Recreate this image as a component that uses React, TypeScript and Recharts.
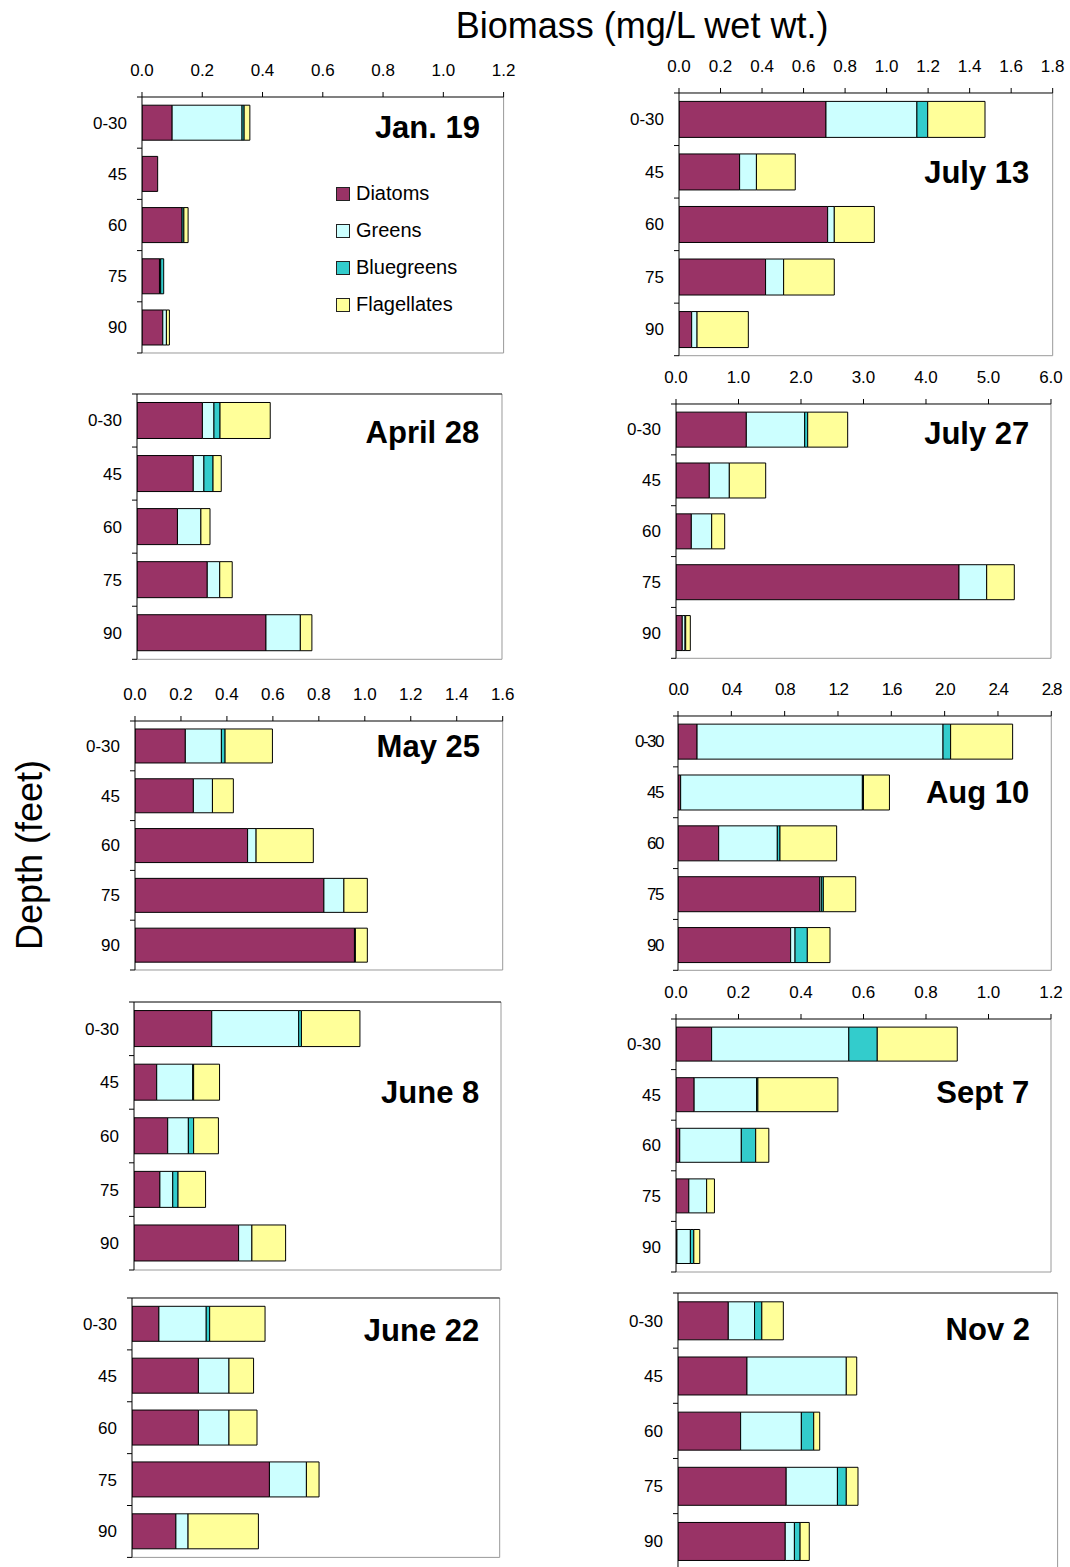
import React from 'react';
import { BarChart, Bar, XAxis, YAxis, CartesianGrid, Legend } from 'recharts';

// depth categories and series
const depths = ['0-30', '45', '60', '75', '90'];
const seriesKeys = ['diatoms', 'greens', 'bluegreens', 'flagellates'];
const seriesNames = ['Diatoms', 'Greens', 'Bluegreens', 'Flagellates'];
const seriesColors = ['#993366', '#CCFFFF', '#33CCCC', '#FFFF99'];

// axis ticks (mg/L wet wt.)
const ticks12 = [0, 0.2, 0.4, 0.6, 0.8, 1.0, 1.2];
const ticks16 = [0, 0.2, 0.4, 0.6, 0.8, 1.0, 1.2, 1.4, 1.6];
const ticks18 = [0, 0.2, 0.4, 0.6, 0.8, 1.0, 1.2, 1.4, 1.6, 1.8];
const ticks28 = [0, 0.4, 0.8, 1.2, 1.6, 2.0, 2.4, 2.8];
const ticks60 = [0, 1, 2, 3, 4, 5, 6];

// rows by depth: [diatoms, greens, bluegreens, flagellates]
type Row = number[];
const jan19: Row[] = [
  [0.1, 0.232, 0.007, 0.019],
  [0.052, 0, 0, 0],
  [0.133, 0, 0.006, 0.014],
  [0.058, 0.004, 0.01, 0],
  [0.069, 0.012, 0, 0.01],
];
const apr28: Row[] = [
  [0.215, 0.038, 0.02, 0.165],
  [0.185, 0.035, 0.03, 0.027],
  [0.133, 0.077, 0, 0.03],
  [0.231, 0.041, 0, 0.041],
  [0.424, 0.113, 0, 0.038],
];
const may25: Row[] = [
  [0.219, 0.157, 0.016, 0.206],
  [0.254, 0.083, 0, 0.091],
  [0.49, 0.037, 0, 0.249],
  [0.822, 0.087, 0, 0.102],
  [0.955, 0, 0.004, 0.052],
];
const jun8: Row[] = [
  [0.339, 0.379, 0.012, 0.255],
  [0.099, 0.157, 0.004, 0.113],
  [0.147, 0.09, 0.023, 0.108],
  [0.113, 0.056, 0.023, 0.12],
  [0.456, 0.058, 0, 0.147],
];
const jun22: Row[] = [
  [0.117, 0.206, 0.015, 0.241],
  [0.289, 0.133, 0, 0.107],
  [0.289, 0.133, 0, 0.122],
  [0.598, 0.161, 0, 0.055],
  [0.191, 0.053, 0, 0.306],
];
const jul13: Row[] = [
  [0.708, 0.438, 0.052, 0.276],
  [0.292, 0.081, 0, 0.187],
  [0.716, 0.032, 0, 0.193],
  [0.417, 0.087, 0, 0.244],
  [0.061, 0.026, 0, 0.247],
];
const jul27: Row[] = [
  [1.125, 0.934, 0.048, 0.64],
  [0.533, 0.32, 0, 0.582],
  [0.245, 0.326, 0, 0.208],
  [4.528, 0.443, 0, 0.442],
  [0.1, 0.045, 0.01, 0.074],
];
const aug10: Row[] = [
  [0.143, 1.845, 0.057, 0.465],
  [0.02, 1.363, 0.008, 0.195],
  [0.305, 0.44, 0.02, 0.425],
  [1.063, 0.012, 0.015, 0.243],
  [0.845, 0.033, 0.092, 0.17],
];
const sep7: Row[] = [
  [0.114, 0.439, 0.091, 0.256],
  [0.058, 0.2, 0.004, 0.256],
  [0.012, 0.197, 0.046, 0.042],
  [0.041, 0.057, 0, 0.025],
  [0.003, 0.043, 0.011, 0.019],
];
const nov2: Row[] = [
  [0.159, 0.083, 0.023, 0.068],
  [0.218, 0.314, 0, 0.033],
  [0.198, 0.192, 0.039, 0.019],
  [0.342, 0.162, 0.028, 0.037],
  [0.339, 0.029, 0.018, 0.029],
];

const FONT = '"Liberation Sans", Arial, sans-serif';
const YW = 70; // y axis width
const XH = 45; // x axis height
const MR = 20;
const MB = 4;

interface PanelProps {
  title: string;
  rows: Row[];
  l: number;
  t: number;
  r: number;
  b: number;
  max: number;
  ticks: number[];
  labels: boolean;
  narrow?: boolean;
  legend?: boolean;
}

const panels: PanelProps[] = [
  { title: 'Jan. 19', rows: jan19, l: 141.7, t: 96.7, r: 503.3, b: 352.7, max: 1.2, ticks: ticks12, labels: true, legend: true },
  { title: 'April 28', rows: apr28, l: 137.3, t: 394, r: 502.3, b: 659.3, max: 1.2, ticks: ticks12, labels: false },
  { title: 'May 25', rows: may25, l: 135.3, t: 721, r: 503, b: 970, max: 1.6, ticks: ticks16, labels: true },
  { title: 'June 8', rows: jun8, l: 134, t: 1002.3, r: 501, b: 1270.3, max: 1.6, ticks: ticks16, labels: false },
  { title: 'June 22', rows: jun22, l: 132.3, t: 1298.3, r: 500, b: 1557.7, max: 1.6, ticks: ticks16, labels: false },
  { title: 'July 13', rows: jul13, l: 679, t: 93.3, r: 1052.7, b: 356, max: 1.8, ticks: ticks18, labels: true },
  { title: 'July 27', rows: jul27, l: 676, t: 404, r: 1051, b: 658.3, max: 6, ticks: ticks60, labels: true },
  { title: 'Aug 10', rows: aug10, l: 678, t: 716, r: 1051.3, b: 970.3, max: 2.8, ticks: ticks28, labels: true, narrow: true },
  { title: 'Sept 7', rows: sep7, l: 676, t: 1019.3, r: 1051, b: 1272.3, max: 1.2, ticks: ticks12, labels: true },
  { title: 'Nov 2', rows: nov2, l: 677.7, t: 1292.7, r: 1057.3, b: 1568.5, max: 1.2, ticks: ticks12, labels: false },
];

// panel title anchors (right end, baseline)
const titleSpots = [
  [480, 137.7], [479.3, 443.3], [480, 756.7], [479.3, 1103.3], [479.3, 1341],
  [1029.3, 182.7], [1029.3, 443.7], [1029.3, 802.7], [1029.3, 1103.3], [1030, 1340.3],
];

function LegendBox({ payload }: any) {
  // keep series order, not alphabetical
  const items = [...(payload || [])].sort(
    (a: any, b: any) => seriesKeys.indexOf(a.dataKey) - seriesKeys.indexOf(b.dataKey)
  );
  return (
    <div style={{ fontFamily: FONT }}>
      {items.map((item: any) => {
        const idx = seriesKeys.indexOf(item.dataKey);
        return (
          <div key={item.dataKey} style={{ display: 'flex', alignItems: 'center', height: 37 }}>
            <span
              style={{
                display: 'inline-block',
                width: 12,
                height: 12,
                background: seriesColors[idx],
                border: '1px solid #222',
              }}
            />
            <span style={{ marginLeft: 6, fontSize: 20, color: '#000' }}>{item.value}</span>
          </div>
        );
      })}
    </div>
  );
}

function Panel({ rows, l, t, r, b, max, ticks, labels, narrow, legend }: PanelProps) {
  const data = depths.map((depth, i) => ({
    depth,
    diatoms: rows[i][0],
    greens: rows[i][1],
    bluegreens: rows[i][2],
    flagellates: rows[i][3],
  }));
  const plotW = r - l;
  const plotH = b - t;
  const band = plotH / depths.length;
  const spacing = narrow ? -1.5 : 0;

  const depthTick = (p: any) => {
    const y = p.y;
    return (
      <g key={`t-${p.index}`}>
        <line x1={YW - 5} x2={YW} y1={y - band / 2} y2={y - band / 2} stroke="#000" />
        {p.index === depths.length - 1 && (
          <line x1={YW - 5} x2={YW} y1={y + band / 2} y2={y + band / 2} stroke="#000" />
        )}
        <text
          x={YW - 15}
          y={y}
          dy="0.35em"
          textAnchor="end"
          fontSize={17}
          fontFamily={FONT}
          letterSpacing={spacing}
          fill="#000"
        >
          {p.payload.value}
        </text>
      </g>
    );
  };

  return (
    <div style={{ position: 'absolute', left: l - YW, top: t - XH }}>
      <BarChart
        width={plotW + YW + MR}
        height={plotH + XH + MB}
        data={data}
        layout="vertical"
        margin={{ top: 0, right: MR, bottom: MB, left: 0 }}
        barCategoryGap="16%"
      >
        <CartesianGrid
          stroke="#9a9a9a"
          horizontalCoordinatesGenerator={({ offset }: any) => [offset.top + offset.height]}
          verticalCoordinatesGenerator={({ offset }: any) => [offset.left + offset.width]}
        />
        <XAxis
          type="number"
          orientation="top"
          domain={[0, max]}
          ticks={ticks}
          interval={0}
          allowDataOverflow
          height={XH}
          tickSize={5}
          tickMargin={16}
          stroke="#000"
          tickFormatter={(v: number) => v.toFixed(1)}
          tick={
            labels
              ? { fill: '#000', fontSize: 17, fontFamily: FONT, letterSpacing: spacing }
              : false
          }
        />
        <YAxis
          type="category"
          dataKey="depth"
          width={YW}
          interval={0}
          axisLine={{ stroke: '#000' }}
          tickLine={false}
          tick={depthTick}
        />
        {seriesKeys.map((key, i) => (
          <Bar
            key={key}
            dataKey={key}
            name={seriesNames[i]}
            stackId="s"
            fill={seriesColors[i]}
            stroke="#000"
            strokeWidth={1}
            isAnimationActive={false}
          />
        ))}
        {legend && (
          <Legend
            layout="vertical"
            align="center"
            verticalAlign="middle"
            itemSorter={null as any}
            content={<LegendBox />}
            wrapperStyle={{ left: 336 - (l - YW), top: 175.5 - (t - XH), width: 200 }}
          />
        )}
      </BarChart>
    </div>
  );
}

export default function App() {
  return (
    <div
      style={{
        position: 'absolute',
        left: 0,
        top: 0,
        width: 1070,
        height: 1567,
        background: '#fff',
        fontFamily: FONT,
        overflow: 'hidden',
      }}
    >
      {panels.map((p) => (
        <Panel key={p.title} {...p} />
      ))}
      <svg
        width={1070}
        height={1567}
        style={{ position: 'absolute', left: 0, top: 0, pointerEvents: 'none' }}
      >
        <text x={642} y={38} textAnchor="middle" fontSize={36} fontFamily={FONT} fill="#000">
          Biomass (mg/L wet wt.)
        </text>
        <text
          transform="translate(42,855) rotate(-90)"
          textAnchor="middle"
          fontSize={36}
          fontFamily={FONT}
          fill="#000"
        >
          Depth (feet)
        </text>
        {panels.map((p, i) => (
          <text
            key={p.title}
            x={titleSpots[i][0]}
            y={titleSpots[i][1]}
            textAnchor="end"
            fontSize={31}
            fontWeight="bold"
            fontFamily={FONT}
            fill="#000"
          >
            {p.title}
          </text>
        ))}
      </svg>
    </div>
  );
}
